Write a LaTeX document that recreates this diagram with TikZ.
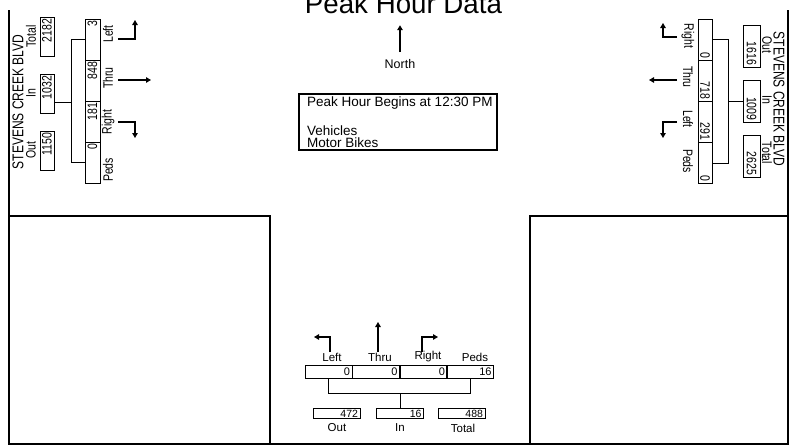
\documentclass[tikz,border=0pt]{standalone}
\usepackage{fontspec}
\usepackage{graphicx}
\setmainfont{Liberation Sans}
\usetikzlibrary{arrows.meta}
\newcommand{\vsc}[1]{\scalebox{1}[1.3]{#1}}
\begin{document}
\begin{tikzpicture}[x=1pt,y=-1pt,
  conn/.style={line width=0.9pt},
  arr/.style={line width=1.1pt,-{Triangle[length=5pt,width=5.5pt]}},
  txt/.style={font=\fontsize{10.5}{11}\selectfont, inner sep=0pt},
  btxt/.style={font=\fontsize{11.5}{12}\selectfont, inner sep=0pt},
  cellbase/.style={draw, line width=0.9pt, inner ysep=0pt, inner xsep=2pt, align=right, font=\fontsize{10.5}{11}\selectfont},
  lcell/.style={cellbase, rotate=90, text width=37pt, minimum height=15pt},
  rcell/.style={cellbase, rotate=-90, text width=37pt, minimum height=14pt},
  bcell/.style={cellbase, text width=43pt, minimum height=13pt, font=\fontsize{11}{11}\selectfont},
  lbox/.style={cellbase, rotate=90, text width=35pt, minimum height=14pt},
  rbox/.style={cellbase, rotate=-90, text width=38pt, minimum height=17pt},
  bbox/.style={cellbase, text width=43pt, minimum height=10pt, font=\fontsize{10.5}{10}\selectfont},
  road/.style={font=\fontsize{12}{12}\selectfont, inner sep=0pt},
  peakt/.style={font=\fontsize{13.5}{14}\selectfont, inner sep=0pt, anchor=west}
]
\useasboundingbox (0,0) rectangle (796,447);
\begin{scope}
\clip (0,0) rectangle (796,447);
\node[font=\fontsize{27.7}{30}\selectfont, anchor=base, inner sep=0pt] (title) at (403.5,13.5) {Peak Hour Data};
\end{scope}

% frame
\draw[line width=2.2pt, line join=miter] (9,10) -- (9,444) -- (788,444) -- (788,10);
\draw[line width=1.3pt] (9,216) -- (270,216) -- (270,444);
\draw[line width=1.3pt] (530,444) -- (530,216) -- (788,216);

% north arrow
\node[font=\fontsize{12.5}{13}\selectfont, inner sep=0pt] (north) at (400,64) {North};
\draw[arr, line width=1.3pt] (north.north) ++(0,-7) -- ++(0,-27);

% peak hour box
\node[draw, line width=1.1pt, minimum width=198pt, minimum height=56pt, inner sep=0pt] (peak) at (398,122) {};
\node[peakt] (peaktxt) at (307,103) {Peak Hour Begins at 12:30 PM};
\node[peakt] (veh) at (307,130.5) {Vehicles};
\node[peakt] (moto) at (307,143) {Motor Bikes};

% ---------------- left approach ----------------
\node[road, rotate=90] (lroad) at (18,102) {\vsc{STEVENS CREEK BLVD}};
\node[lbox] (LTot) at (47,36.5) {\vsc{2182}};
\node[lbox] (LIn) at (47,93.5) {\vsc{1032}};
\node[lbox] (LOut) at (47,150.5) {\vsc{1150}};
\node[txt, rotate=90] (LTotl) at (31,36.5) {\vsc{Total}};
\node[txt, rotate=90] (LInl) at (31,93.5) {\vsc{In}};
\node[txt, rotate=90] (LOutl) at (31,150.5) {\vsc{Out}};
\node[lcell] (L1) at (92.5,39.5) {\vsc{3}};
\node[lcell] (L2) at (92.5,80.5) {\vsc{848}};
\node[lcell] (L3) at (92.5,121.5) {\vsc{181}};
\node[lcell] (L4) at (92.5,162.5) {\vsc{0}};
\node[txt, rotate=90] (L1l) at (108,34) {\vsc{Left}};
\node[txt, rotate=90] (L2l) at (108,78) {\vsc{Thru}};
\node[txt, rotate=90] (L3l) at (108,122) {\vsc{Right}};
\node[txt, rotate=90] (L4l) at (108,170) {\vsc{Peds}};
\coordinate (lbk) at (72,102);
\draw[conn] (L1.north) -- ++(-13,0) |- (L4.north);
\draw[conn] (LIn.south |- lbk) -- (lbk);
\draw[arr] (118,39) -- (135,39) -- (135,20);
\draw[arr] (118,80) -- (151,80);
\draw[arr] (118,122) -- (135,122) -- (135,138);

% ---------------- right approach ----------------
\node[road, rotate=-90] (rroad) at (779,99) {\vsc{STEVENS CREEK BLVD}};
\node[rbox] (ROut) at (751.5,46) {\vsc{1616}};
\node[rbox] (RIn) at (751.5,101.5) {\vsc{1009}};
\node[rbox] (RTot) at (751.5,156) {\vsc{2625}};
\node[txt, rotate=-90] (ROutl) at (767,45) {\vsc{Out}};
\node[txt, rotate=-90] (RInl) at (767,100) {\vsc{In}};
\node[txt, rotate=-90] (RTotl) at (767,153) {\vsc{Total}};
\node[rcell] (R1) at (705,39.5) {\vsc{0}};
\node[rcell] (R2) at (705,80.5) {\vsc{718}};
\node[rcell] (R3) at (705,121.5) {\vsc{291}};
\node[rcell] (R4) at (705,163) {\vsc{0}};
\node[txt, rotate=-90] (R1l) at (688,36) {\vsc{Right}};
\node[txt, rotate=-90] (R2l) at (688,77) {\vsc{Thru}};
\node[txt, rotate=-90] (R3l) at (688,119) {\vsc{Left}};
\node[txt, rotate=-90] (R4l) at (688,161) {\vsc{Peds}};
\coordinate (rbk) at (728,101.5);
\draw[conn] (R1.north) -- ++(16,0) |- (R4.north);
\draw[conn] (RIn.south) -- (rbk);
\draw[arr] (677,37) -- (663,37) -- (663,23);
\draw[arr] (677,80) -- (649,80);
\draw[arr] (677,122) -- (663,122) -- (663,138);

% ---------------- bottom approach ----------------
\node[bcell] (B1) at (328.5,371.5) {0};
\node[bcell] (B2) at (376,371.5) {0};
\node[bcell] (B3) at (423.5,371.5) {0};
\node[bcell] (B4) at (470,371.5) {16};
\node[btxt] (B1l) at (332,357) {Left};
\node[btxt] (B2l) at (380,357) {Thru};
\node[btxt] (B3l) at (428,357) {Right};
\node[btxt] (B4l) at (475,357) {Peds};
\node[bbox] (BOut) at (336.5,413.5) {472};
\node[bbox] (BIn) at (400,413.5) {16};
\node[bbox] (BTot) at (461.5,413.5) {488};
\node[btxt] (BOutl) at (337,428) {Out};
\node[btxt] (BInl) at (400,428) {In};
\node[btxt] (BTotl) at (463,428) {Total};
\coordinate (bbk) at (400,393);
\draw[conn] (B1.south) -- ++(0,15) -| (B4.south);
\draw[conn] (BIn.north) -- (bbk);
\draw[arr] (330,352) -- (330,337) -- (314,337);
\draw[arr] (378,352) -- (378,322);
\draw[arr] (422,352) -- (422,337) -- (438,337);
\end{tikzpicture}
\end{document}
